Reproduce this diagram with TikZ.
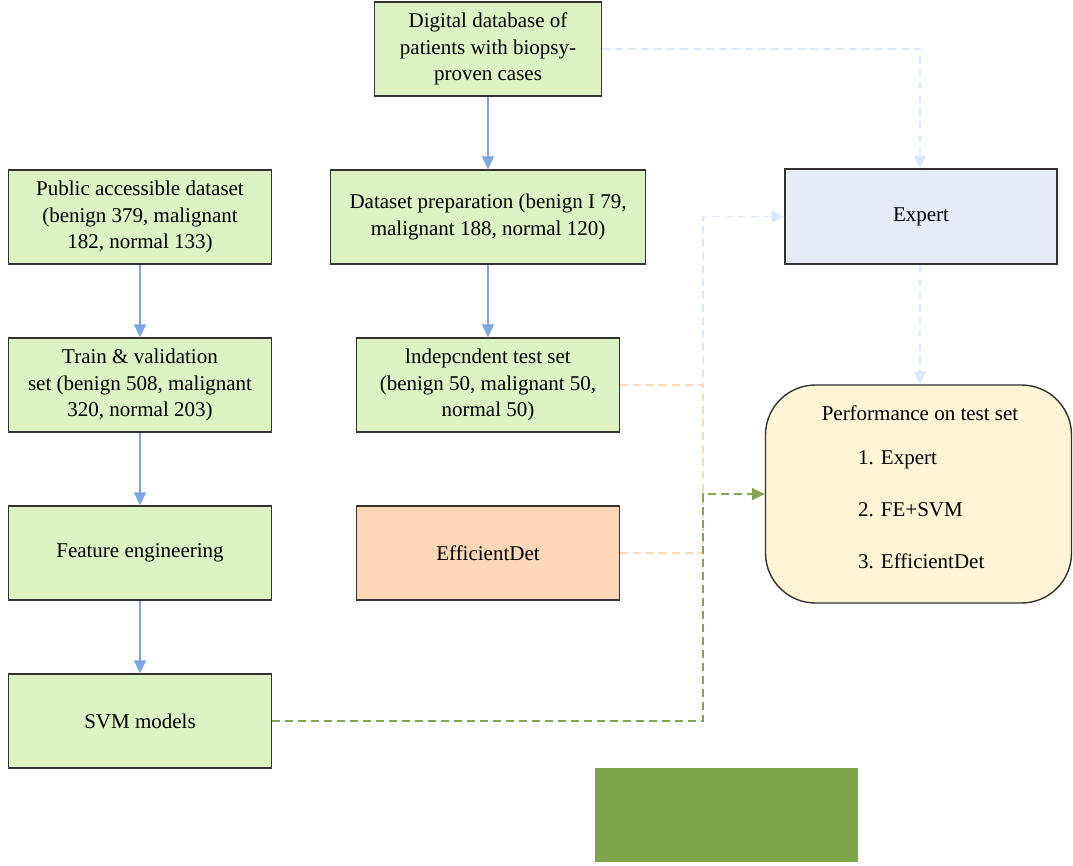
\documentclass[tikz,border=0pt]{standalone}
\usepackage{fontspec}
\setmainfont{Liberation Serif}
\usetikzlibrary{arrows.meta}
\definecolor{boxgreen}{HTML}{DCF4C3}
\definecolor{edgeblue}{HTML}{7EA6E0}
\definecolor{lightblue}{HTML}{DAE8FC}
\definecolor{lightorange}{HTML}{FFD7B8}
\definecolor{dgreen}{HTML}{82A64F}
\definecolor{expertfill}{HTML}{E6EBF9}
\definecolor{perffill}{HTML}{FFF4D6}
\definecolor{efffill}{HTML}{FDD6B6}
\definecolor{blockgreen}{HTML}{7EA54A}
\newcommand{\dfont}{\fontsize{21}{26.5}\selectfont}
\tikzset{
  box/.style={draw=black!80, line width=1.4pt, minimum width=263pt, minimum height=94pt,
    align=center, font=\dfont, inner sep=2pt},
  gbox/.style={box, fill=boxgreen},
  flow/.style={draw=edgeblue, line width=2pt, -{Triangle[width=12pt,length=13pt]}},
  dashlink/.style={line width=1.5pt, dash pattern=on 8pt off 5pt},
  bluedash/.style={dashlink, draw=lightblue, -{Triangle[width=12pt,length=13pt]}},
  orangedash/.style={dashlink, draw=lightorange},
  greendash/.style={dashlink, draw=dgreen, -{Triangle[width=12pt,length=13pt]}},
  ptext/.style={font=\dfont, inner sep=0pt},
}
\begin{document}
\begin{tikzpicture}[x=1pt,y=-1pt]
\useasboundingbox (0,0) rectangle (1073,865);
\fill[white] (0,0) rectangle (1073,865);

\node[gbox, minimum width=227pt] (db) at (488,49) {Digital database of\\patients with biopsy-\\proven cases};
\node[gbox] (pub) at (140,217) {Public accessible dataset\\(benign 379, malignant\\182, normal 133)};
\node[gbox, minimum width=315pt] (prep) at (488,217) {Dataset preparation (benign I 79,\\malignant 188, normal 120)};
\node[box, fill=expertfill, minimum width=272pt, minimum height=95pt] (exp) at (921,216.5) {Expert};
\node[gbox] (train) at (140,385) {Train \& validation\\set (benign 508, malignant\\320, normal 203)};
\node[gbox] (ind) at (488,385) {lndepcndent test set\\(benign 50, malignant 50,\\normal 50)};
\node[gbox] (fe) at (140,553) {Feature engineering};
\node[box, fill=efffill] (eff) at (488,553) {EfficientDet};
\node[gbox] (svm) at (140,721) {SVM models};
\node[box, fill=perffill, rounded corners=50pt, minimum width=306pt, minimum height=218pt] (perf) at (918.5,494) {};
\node[ptext] (ptitle) at (920,413) {Performance on test set};
\node[ptext, anchor=west] (p1) at (858,460) {1. Expert};
\node[ptext, anchor=west] (p2) at (858,510) {2. FE+SVM};
\node[ptext, anchor=west] (p3) at (858,561) {3. EfficientDet};
\fill[blockgreen] (595,768) rectangle (858,862);

% solid flows
\draw[flow] (db) -- (prep);
\draw[flow] (prep) -- (ind);
\draw[flow] (pub) -- (train);
\draw[flow] (train) -- (fe);
\draw[flow] (fe) -- (svm);

% dashed links
\draw[bluedash] (db.east) -- (920,49) -- (exp.north -| 920,0);
\draw[bluedash] (exp.south -| 920,0) -- (perf.north -| 920,0);
\coordinate (jx) at (703,0);
\draw[bluedash] (ind.east) -- (ind.east -| jx) -- (jx |- exp.west) -- (exp.west);
\draw[orangedash] (ind.east) -- (ind.east -| jx) -- (jx |- eff.east);
\draw[orangedash] (eff.east) -- (eff.east -| jx);
\draw[greendash] (svm.east) -- (svm.east -| jx) -- (jx |- perf.west) -- (perf.west);
\end{tikzpicture}
\end{document}
